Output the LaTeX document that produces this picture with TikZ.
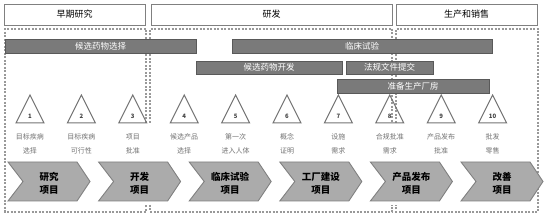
\documentclass[tikz,border=0pt]{standalone}
\usepackage{fontspec}
\setmainfont{Noto Sans CJK SC}
\begin{document}
\begin{tikzpicture}[x=1pt,y=-1pt,
  hdr/.style={draw=black!50,fill=white,line width=0.9pt,inner sep=0pt,font=\fontsize{9}{9}\selectfont},
  zone/.style={draw=black!40,dash pattern=on 2pt off 1.5pt,line width=1.1pt},
  bar/.style={draw=black!65,fill=black!52,line width=0.9pt,inner sep=0pt,text=white,font=\fontsize{8.5}{8.5}\selectfont},
  tri/.style={draw=black!55,line width=1pt,line join=miter},
  num/.style={font=\bfseries\fontsize{6}{6}\selectfont,text=black!75,inner sep=0pt},
  lbl/.style={font=\fontsize{7}{14}\selectfont,text=black!55,align=center,inner sep=0pt},
  chev/.style={draw=black!50,fill=black!33,line width=0.9pt},
  chevtxt/.style={font=\bfseries\fontsize{9.5}{13}\selectfont,align=center,inner sep=0pt}]
\useasboundingbox (0,0) rectangle (544,216);
% headers
\node[hdr,minimum width=141pt,minimum height=21pt] (h1) at (74.5,14.5) {早期研究};
\node[hdr,minimum width=241pt,minimum height=21pt] (h2) at (271.5,14.5) {研发};
\node[hdr,minimum width=141pt,minimum height=21pt] (h3) at (466.5,14.5) {生产和销售};
% dashed zones
\draw[zone] (146,123) -- (146,29) -- (5,29) -- (5,212) -- (146,212) -- (146,205);
\draw[zone] (150,123) -- (150,29) -- (392,29) -- (392,123);
\draw[zone] (150,205) -- (150,212) -- (392,212) -- (392,205);
\draw[zone] (396,123) -- (396,29) -- (538,29) -- (538,212) -- (396,212) -- (396,205);
% bars
\node[bar,minimum width=191pt,minimum height=14pt] (b1) at (100.5,46) {候选药物选择};
\node[bar,minimum width=260pt,minimum height=14pt] (b2) at (362,46) {临床试验};
\node[bar,minimum width=146pt,minimum height=13pt] (b3) at (269,67.5) {候选药物开发};
\node[bar,minimum width=87pt,minimum height=13pt] (b4) at (389.5,67.5) {法规文件提交};
\node[bar,minimum width=152pt,minimum height=14pt] (b5) at (413,86) {准备生产厂房};
% milestones
\foreach \i/\t in {1/{目标疾病\\选择},2/{目标疾病\\可行性},3/{项目\\批准},4/{候选产品\\选择},5/{第一次\\进入人体},6/{概念\\证明},7/{设施\\需求},8/{合规批准\\需求},9/{产品发布\\批准},10/{批发\\零售}}{
  \pgfmathsetmacro{\cx}{30+51.4*(\i-1)}
  \coordinate (a\i) at (\cx,95);
  \draw[tri] (a\i) -- ++(14,28) -- ++(-28,0) -- cycle;
  \node[num] (n\i) at (\cx,116) {\i};
  \node[lbl] (l\i) at (\cx,144) {\t};
}
% chevrons
\foreach \i/\t in {1/{研究\\项目},2/{开发\\项目},3/{临床试验\\项目},4/{工厂建设\\项目},5/{产品发布\\项目},6/{改善\\项目}}{
  \pgfmathsetmacro{\lx}{8+90.6*(\i-1)}
  \coordinate (c\i) at (\lx,162);
  \draw[chev] (c\i) -- ++(69,0) -- ++(13,19.5) -- ++(-13,19.5) -- ++(-69,0) -- ++(15,-19.5) -- cycle;
  \node[chevtxt] (t\i) at (\lx+41,183.5) {\t};
}
\end{tikzpicture}
\end{document}
